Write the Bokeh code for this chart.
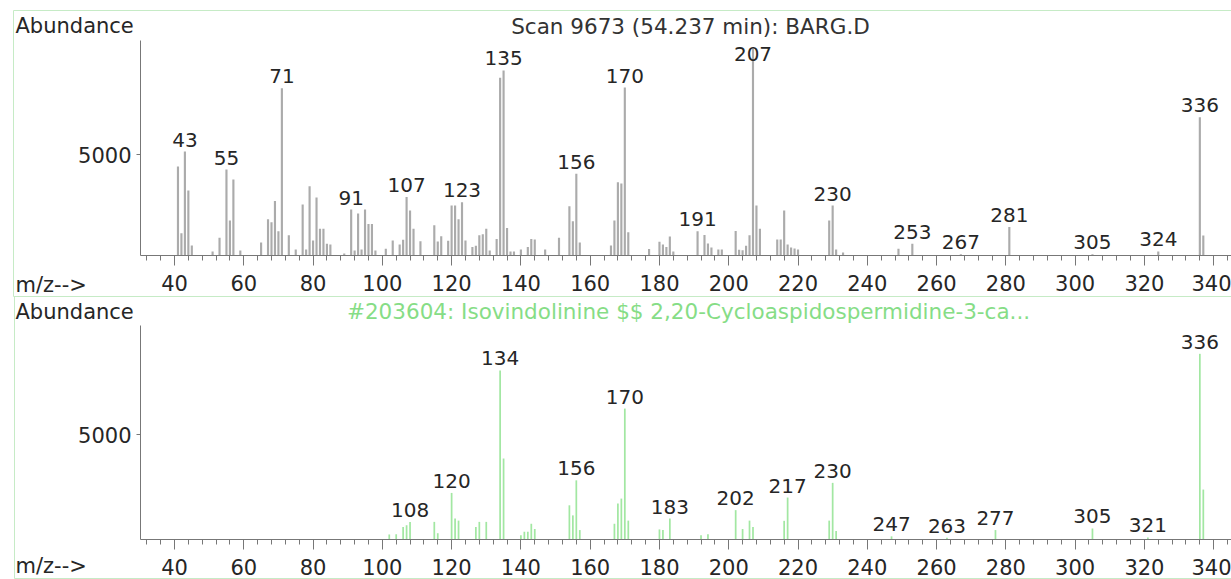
import numpy as np
from bokeh.plotting import figure
from bokeh.models import (Range1d, SingleIntervalTicker, FixedTicker, LinearAxis,
                          ColumnDataSource)
from bokeh.embed import file_html
from bokeh.resources import INLINE
from bokeh.core.properties import value

# ---------------- data ----------------
top_title = "Scan 9673 (54.237 min): BARG.D"
bot_title = "#203604: Isovindolinine $$ 2,20-Cycloaspidospermidine-3-ca..."
y_title = "Abundance"
x_title = "m/z-->"

top_mz = [41, 42, 43, 44, 45, 51, 53, 55, 56, 57, 59, 65, 67, 68, 69, 70, 71, 73, 75, 77,
          78, 79, 80, 81, 82, 83, 84, 85, 89, 91, 92, 93, 94, 95, 96, 97, 98, 101, 103, 105,
          106, 107, 108, 109, 111, 115, 116, 117, 119, 120, 121, 122, 123, 124, 126, 127, 128, 129, 130, 131,
          133, 134, 135, 136, 137, 138, 140, 142, 143, 144, 147, 151, 154, 155, 156, 157, 166, 167, 168, 169,
          170, 171, 177, 180, 181, 182, 183, 184, 191, 193, 194, 195, 197, 198, 202, 203, 204, 205, 206, 207,
          208, 209, 214, 215, 216, 217, 218, 219, 220, 229, 230, 231, 233, 249, 253, 267, 281, 305, 324, 336,
          337]
top_ab = [4420, 1100, 5160, 3230, 500, 200, 880, 4270, 1740, 3770, 250, 650, 1800, 1650, 2700, 1200, 8300, 1000, 300, 2530,
          300, 3440, 750, 2880, 1330, 1330, 580, 550, 100, 2280, 250, 2080, 300, 2280, 1570, 1570, 250, 330, 750, 550,
          780, 2900, 2230, 1330, 710, 1500, 700, 960, 730, 2480, 2480, 1800, 2640, 750, 420, 480, 1000, 1060, 1330, 250,
          820, 8820, 9190, 1370, 200, 200, 300, 420, 820, 790, 300, 880, 2440, 1700, 4060, 640, 500, 1740, 3640, 3580,
          8340, 1160, 320, 680, 550, 420, 940, 200, 1210, 1020, 600, 400, 300, 300, 1220, 280, 260, 480, 1010, 10250,
          2480, 1330, 800, 800, 2230, 550, 400, 350, 300, 1740, 2480, 300, 150, 340, 580, 60, 1410, 60, 200, 6870,
          990]
top_labels = [43, 55, 71, 91, 107, 123, 135, 156, 170, 191, 207, 230, 253, 267, 281, 305, 324, 336]

bot_mz = [102, 104, 106, 107, 108, 115, 116, 120, 121, 122, 127, 128, 130, 134, 135, 140, 141, 142, 143, 144,
          154, 155, 156, 157, 167, 168, 169, 170, 171, 180, 181, 183, 192, 194, 202, 204, 206, 207, 216, 217,
          229, 230, 231, 247, 263, 277, 305, 321, 336, 337]
bot_ab = [240, 250, 600, 680, 840, 840, 300, 2220, 1000, 900, 600, 840, 840, 8060, 3860, 200, 370, 370, 750, 500,
          1630, 1150, 2820, 450, 750, 1710, 1950, 6240, 900, 480, 450, 1000, 200, 250, 1400, 500, 900, 600, 890, 2000,
          900, 2700, 400, 150, 80, 450, 525, 100, 8850, 2380]
bot_labels = [108, 120, 134, 156, 170, 183, 202, 217, 230, 247, 263, 277, 305, 321, 336]

y_ticks = [5000]

# ---------------- layout constants (pixels from the top-left corner) ----------------
W, H = 1231, 579
PX40, PPU = 174.0, 3.464          # pixel of m/z 40, pixels per m/z unit
AXIS_X = 140                        # y axis position
MZ0 = 40 + (0 - PX40) / PPU
MZ1 = 40 + (W - PX40) / PPU
MZ_AX = 40 + (AXIS_X - PX40) / PPU

TOP_BASE, TOP_TOP, TOP_MAX = 255, 40, 10675
BOT_BASE, BOT_TOP, BOT_MAX = 539, 325, 10200
kt = TOP_MAX / (TOP_BASE - TOP_TOP)
kb = BOT_MAX / (BOT_BASE - BOT_TOP)

FONT = "DejaVu Sans"
TXT = "#262626"
AX = "#777777"
BOX = "#c6ebc6"
MID = 7.5   # baseline-to-middle distance for 21px text

p = figure(width=W, height=H, output_backend="svg", toolbar_location=None,
           x_range=Range1d(0, W), y_range=Range1d(H, 0),
           x_axis_location=None, y_axis_location=None, min_border=0)
p.grid.visible = False
p.outline_line_color = None
p.background_fill_color = "white"
p.border_fill_color = "white"
p.extra_x_ranges = {"mz": Range1d(MZ0, MZ1)}
p.extra_y_ranges = {"top": Range1d(-(H - TOP_BASE) * kt, TOP_BASE * kt),
                    "bot": Range1d(-(H - BOT_BASE) * kb, BOT_BASE * kb)}

# panel frames (light green boxes)
p.segment(x0=[13, 13, 13, 14, 14], y0=[10, 10, 296, 296, 578],
          x1=[W + 10, 13, W + 10, 14, W + 10], y1=[10, 296, 296, 578, 578],
          line_color=BOX, line_width=1)


def panel(mz, ab, labels, yname, ymax, label_cap, bar_color, bar_w):
    p.vbar(x=mz, top=ab, bottom=0, width=bar_w, fill_color=bar_color, line_color=None,
           x_range_name="mz", y_range_name=yname)
    ab_map = dict(zip(mz, ab))
    ly = [min(ab_map[m], label_cap) for m in labels]
    src = ColumnDataSource(dict(x=labels, y=ly, t=[str(m) for m in labels]))
    p.text(x="x", y="y", text="t", source=src, x_range_name="mz", y_range_name=yname,
           text_align="center", text_baseline="middle", y_offset=-12,
           text_font=value(FONT), text_font_size="20px", text_color=TXT)

    xa = LinearAxis(x_range_name="mz", y_range_name=yname, fixed_location=0,
                    bounds=(MZ_AX, MZ1),
                    ticker=SingleIntervalTicker(interval=20, num_minor_ticks=5))
    xa.axis_line_color = AX
    xa.major_tick_line_color = AX
    xa.minor_tick_line_color = AX
    xa.major_tick_in = 0
    xa.major_tick_out = 10
    xa.minor_tick_in = 0
    xa.minor_tick_out = 5
    xa.major_label_standoff = 9
    xa.major_label_text_font = FONT
    xa.major_label_text_font_size = "21px"
    xa.major_label_text_color = TXT
    p.add_layout(xa, "below")

    ya = LinearAxis(x_range_name="mz", y_range_name=yname, fixed_location=MZ_AX,
                    bounds=(0, ymax), ticker=FixedTicker(ticks=y_ticks))
    ya.axis_line_color = AX
    ya.major_tick_line_color = AX
    ya.minor_tick_line_color = None
    ya.major_tick_in = 0
    ya.major_tick_out = 4
    ya.major_label_standoff = 5
    ya.major_label_text_font = FONT
    ya.major_label_text_font_size = "21px"
    ya.major_label_text_color = TXT
    p.add_layout(ya, "left")


panel(top_mz, top_ab, top_labels, "top", TOP_MAX, 9400, "#ababab", 0.62)
panel(bot_mz, bot_ab, bot_labels, "bot", BOT_MAX, 100000, "#a2e7a2", 0.5)


def txt(x, baseline, s, color=TXT, size="21px", align="left"):
    p.text(x=[x], y=[baseline - MID], text=[s], text_align=align, text_baseline="middle",
           text_font=value(FONT), text_font_size=size, text_color=color)


txt(15, 33, y_title)
txt(15, 292, x_title)
txt(690, 33, top_title, "#333333", "21.5px", "center")
txt(15, 319, y_title)
txt(15, 573, x_title)
txt(688, 318, bot_title, "#86dd86", "21.5px", "center")

open("out.html", "w").write(file_html(p, INLINE))
